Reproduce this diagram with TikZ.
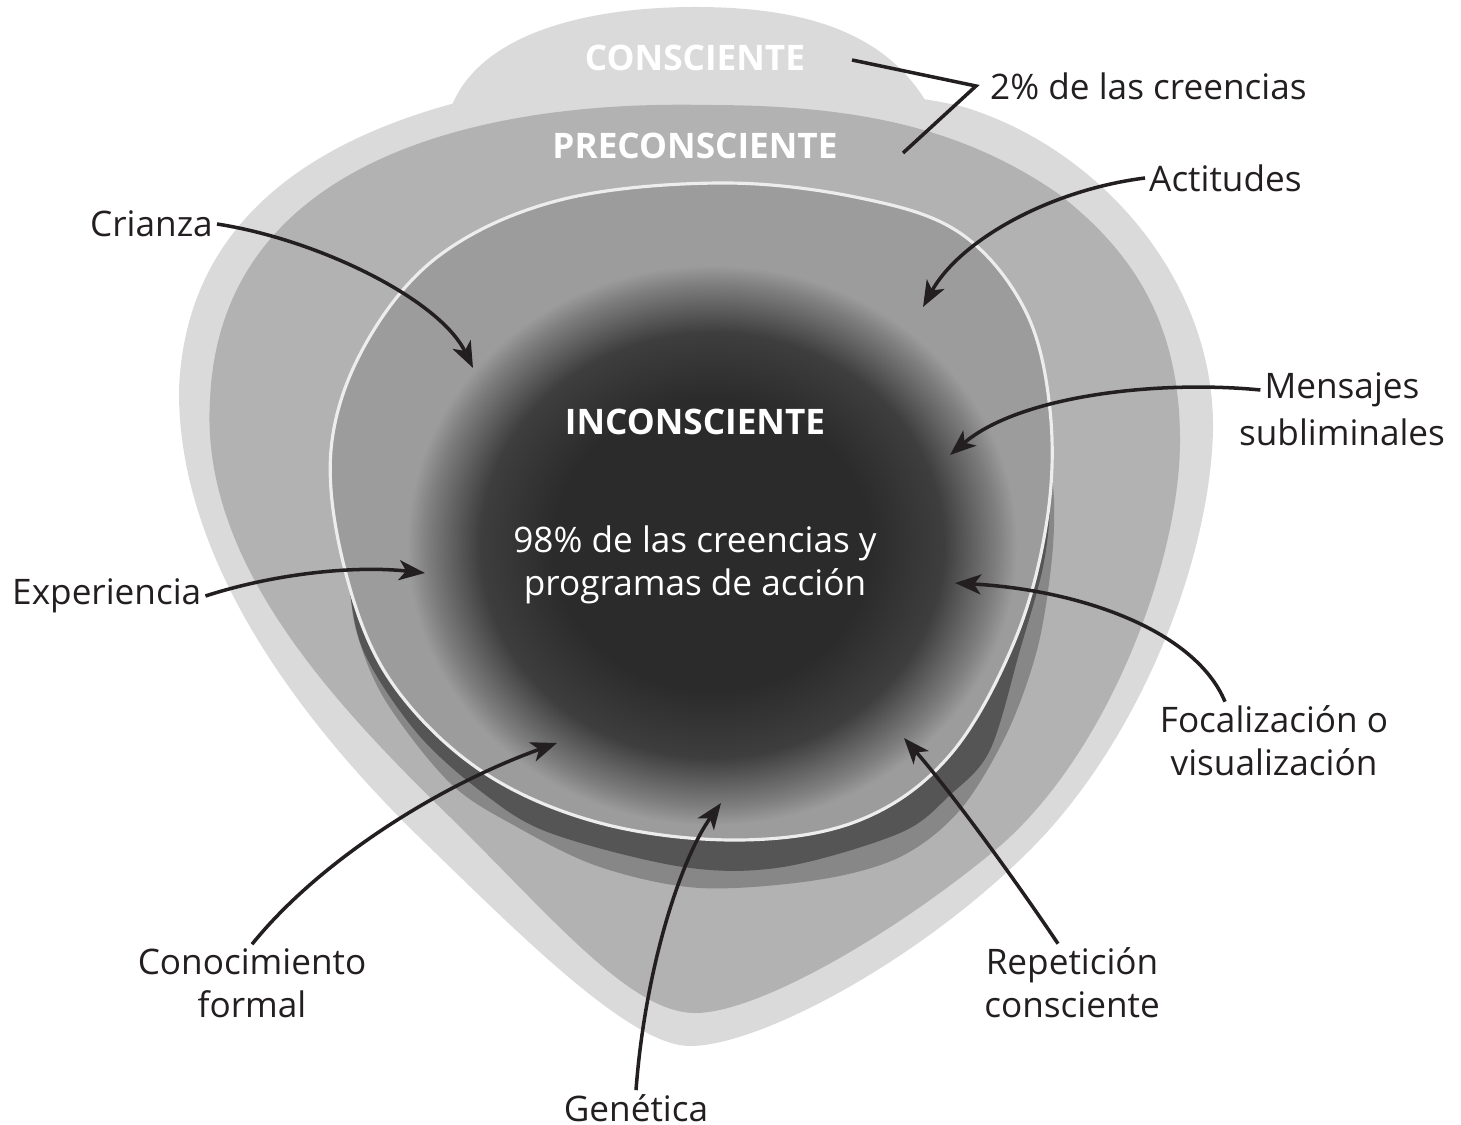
\documentclass[tikz,border=0pt]{standalone}
\usepackage{fontspec}
\setmainfont{Open Sans}
\usetikzlibrary{arrows.meta,calc}
\definecolor{lightg}{HTML}{DADADA}
\definecolor{midg}{HTML}{B2B2B2}
\definecolor{bandl}{HTML}{878787}
\definecolor{bandd}{HTML}{555555}
\definecolor{innerg}{HTML}{9C9C9C}
\definecolor{coreg}{HTML}{2B2B2B}
\definecolor{ctwo}{HTML}{3E3E3E}
\definecolor{cthree}{HTML}{7E7E7E}
\definecolor{txt}{HTML}{231F20}
\pgfdeclareradialshading{incshade}{\pgfpoint{0bp}{0bp}}{color(0bp)=(coreg); color(13bp)=(coreg); color(19bp)=(ctwo); color(23.3bp)=(cthree); color(25bp)=(innerg); color(50bp)=(innerg)}
\tikzset{
  lbl/.style={text=txt, font=\fontsize{10}{12.2}\selectfont, inner sep=1pt},
  wlbl/.style={text=white, font=\fontsize{10}{12.2}\selectfont, inner sep=1pt},
  wbold/.style={text=white, font=\fontsize{10}{12.2}\selectfont\bfseries, inner sep=1pt},
  arr/.style={draw=txt, line width=1pt, -{Stealth[length=0.26cm,width=0.2cm,inset=0.07cm]}},
  brk/.style={draw=txt, line width=1pt}
}
\def\innerpts{(720,183) (560,200) (440,255) (365,345) (331,450) (345,570) (390,680) (480,770) (600,823) (740,840) (860,820) (950,755) (1015,640) (1047,520) (1050,410) (1025,310) (960,233) (860,198)}
\begin{document}
\begin{tikzpicture}[x=0.01cm,y=-0.01cm]
\useasboundingbox (0,0) rectangle (1461,1125);
% outer conscious layer
\fill[lightg] (455,103) .. controls (300,145) and (185,230) .. (179,390)
  .. controls (178,560) and (300,720) .. (417,835)
  .. controls (520,935) and (630,1046) .. (690,1046)
  .. controls (760,1046) and (920,960) .. (1030,850)
  .. controls (1140,740) and (1210,560) .. (1213,430)
  .. controls (1215,280) and (1100,150) .. (967,108)
  .. controls (870,80) and (560,80) .. (455,103) -- cycle;
\fill[lightg] (450,110) .. controls (480,28) and (600,7) .. (695,7) .. controls (800,7) and (885,30) .. (928,105) -- cycle;
% preconscious layer
\fill[midg] (706,105) .. controls (480,100) and (220,160) .. (210,400)
  .. controls (200,560) and (330,700) .. (450,817)
  .. controls (550,915) and (630,1013) .. (695,1013)
  .. controls (760,1013) and (900,930) .. (1000,846)
  .. controls (1110,750) and (1180,560) .. (1180,440)
  .. controls (1180,320) and (1130,250) .. (1060,195)
  .. controls (960,125) and (850,105) .. (706,105) -- cycle;
% shadow bands
\fill[bandl] plot[smooth, tension=0.55] coordinates {(338,440) (344,520) (349,570) (356,630) (385,700) (450,783) (517,827) (600,867) (700,888) (817,880) (900,857) (960,810) (1007,733) (1037,650) (1051,567) (1054,500) (1046,430)} -- cycle;
\fill[bandd] plot[smooth, tension=0.55] coordinates {(336,440) (342,520) (347,570) (363,650) (417,733) (483,793) (550,833) (683,867) (783,867) (900,833) (950,795) (990,750) (1020,650) (1043,567) (1050,500) (1044,430)} -- cycle;
% unconscious core
\fill[innerg] plot[smooth cycle, tension=0.6] coordinates {\innerpts};
\begin{scope}
\clip plot[smooth cycle, tension=0.6] coordinates {\innerpts};
\shade[shading=incshade] (407,265) rectangle (1017,825);
\end{scope}
\draw[white!93!black, line width=0.9pt] plot[smooth cycle, tension=0.6] coordinates {\innerpts};
% white labels
\node[wbold] (cons) at (695,58) {CONSCIENTE};
\node[wbold] (pre) at (695,146) {PRECONSCIENTE};
\node[wbold] (inc) at (695,422) {INCONSCIENTE};
\node[wlbl, align=center] (nov) at (695,565) {98\% de las creencias y\\programas de acción};
% black labels
\node[lbl, anchor=west] (pct) at (986,86) {2\% de las creencias};
\node[lbl, anchor=west] (act) at (1145,178) {Actitudes};
\node[lbl, anchor=east] (cri) at (217,224) {Crianza};
\node[lbl] (men) at (1342,390) {Mensajes};
\node[lbl] (sub) at (1342,432) {subliminales};
\node[lbl, anchor=west] (exp) at (8,596) {Experiencia};
\node[lbl, align=center] (foc) at (1274,741) {Focalización o\\visualización};
\node[lbl, align=center] (con) at (252,983) {Conocimiento\\formal};
\node[lbl, align=center] (rep) at (1072,983) {Repetición\\consciente};
\node[lbl] (gen) at (636,1108) {Genética};
% targets
\coordinate (bA) at (852,60);
\coordinate (bB) at (903,153);
\coordinate (tCri) at (473,368);
\coordinate (tAct) at (923,307);
\coordinate (tMen) at (950,455);
\coordinate (tExp) at (425,573);
\coordinate (tFoc) at (955,583);
\coordinate (tCon) at (557,743);
\coordinate (tGen) at (721,803);
\coordinate (tRep) at (904,738);
% bracket
\draw[brk, line join=miter] (bA) -- ($(pct.west)+(-10,0)$) -- (bB);
% arrows
\draw[arr] (cri.east) .. controls (320,240) and (440,300) .. (tCri);
\draw[arr] (act.west) .. controls (1050,190) and (960,240) .. (tAct);
\draw[arr] (men.west) .. controls (1160,380) and (1020,395) .. (tMen);
\draw[arr] (exp.east) .. controls (270,575) and (350,565) .. (tExp);
\draw[arr] ($(foc.north)+(-49,0)$) .. controls (1195,630) and (1080,590) .. (tFoc);
\draw[arr] (con.north) .. controls (320,860) and (440,785) .. (tCon);
\draw[arr] (gen.north) .. controls (645,970) and (680,860) .. (tGen);
\draw[arr] ($(rep.north)+(-14,0)$) .. controls (1005,865) and (945,785) .. (tRep);
\end{tikzpicture}
\end{document}
